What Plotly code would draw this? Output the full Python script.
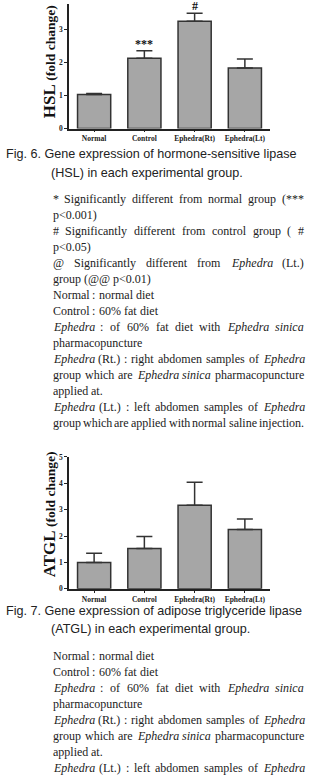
import plotly.graph_objects as go
import re

# ---------------- data ----------------
groups = ["Normal", "Control", "Ephedra(Rt)", "Ephedra(Lt)"]
hsl_mean = [1.03, 2.13, 3.26, 1.84]
hsl_sem = [0.03, 0.23, 0.24, 0.27]
atgl_mean = [1.00, 1.53, 3.17, 2.25]
atgl_sem = [0.35, 0.46, 0.87, 0.40]
hsl_marks = ["", "***", "#", ""]
y_ticks_hsl = [0, 1, 2, 3]
y_ticks_atgl = [0, 1, 2, 3, 4, 5]

caption6 = ["Fig. 6. Gene expression of hormone-sensitive lipase",
            "(HSL) in each experimental group."]
caption7 = ["Fig. 7. Gene expression of adipose triglyceride lipase",
            "(ATGL) in each experimental group."]

notes6 = [
    ("* Significantly different from normal group (***", True),
    ("p&lt;0.001)", False),
    ("# Significantly different from control group ( #", True),
    ("p&lt;0.05)", False),
    ("@ Significantly different from <i>Ephedra</i> (Lt.)", True),
    ("group (@@ p&lt;0.01)", False),
    ("Normal : normal diet", False),
    ("Control : 60% fat diet", False),
    ("<i>Ephedra</i> : of 60% fat diet with <i>Ephedra</i> <i>sinica</i>", True),
    ("pharmacopuncture", False),
    ("<i>Ephedra</i> (Rt.) : right abdomen samples of <i>Ephedra</i>", True),
    ("group which are <i>Ephedra</i> <i>sinica</i> pharmacopuncture", True),
    ("applied at.", False),
    ("<i>Ephedra</i> (Lt.) : left abdomen samples of <i>Ephedra</i>", True),
    ("group which are applied with normal saline injection.", True),
]
notes7 = [
    ("Normal : normal diet", False),
    ("Control : 60% fat diet", False),
    ("<i>Ephedra</i> : of 60% fat diet with <i>Ephedra</i> <i>sinica</i>", True),
    ("pharmacopuncture", False),
    ("<i>Ephedra</i> (Rt.) : right abdomen samples of <i>Ephedra</i>", True),
    ("group which are <i>Ephedra</i> <i>sinica</i> pharmacopuncture", True),
    ("applied at.", False),
    ("<i>Ephedra</i> (Lt.) : left abdomen samples of <i>Ephedra</i>", True),
]

# ---------------- layout helpers ----------------
W, H = 309, 778
def px(x):
    return x / W
def py(y):
    return 1 - y / H

# Times / Liberation Serif advance widths (1/1000 em)
REG = dict(zip("abcdefghijklmnopqrstuvwxyz",
               [444,500,444,500,444,333,500,500,278,278,500,278,778,500,500,500,500,333,389,278,500,500,722,500,500,444]))
REG.update(dict(zip("ABCDEFGHIJKLMNOPQRSTUVWXYZ",
               [722,667,667,722,611,556,722,722,333,389,722,611,889,722,722,556,722,667,556,611,722,722,944,722,722,611])))
REG.update({c: 500 for c in "0123456789"})
REG.update({" ": 250, "(": 333, ")": 333, ".": 250, ":": 278, "%": 833, "*": 500,
            "#": 500, "@": 921, "<": 564, ",": 250, "-": 333})
ITA = dict(REG)
ITA.update(dict(zip("abcdefghijklmnopqrstuvwxyz",
               [500,500,444,500,444,278,500,500,278,278,444,278,722,500,500,500,500,389,389,278,500,444,667,444,444,389])))
ITA.update({"E": 611, "A": 611})

def word_width(tok, size):
    italic = "<i>" in tok
    plain = re.sub(r"<[^>]+>", "", tok).replace("&lt;", "<")
    tab = ITA if italic else REG
    return sum(tab.get(c, 500) for c in plain) * size / 1000.0

NOTE_FONT = dict(family="Liberation Serif", size=12, color="#222")
LEFT, RIGHT = 51.5, 303.0
LINE_H = 16.2

annotations = []

def add_notes(lines, y0):
    fs = NOTE_FONT["size"]
    for k, (line, just) in enumerate(lines):
        toks = line.split(" ")
        widths = [word_width(t, fs) for t in toks]
        if just and len(toks) > 1:
            gap = (RIGHT - LEFT - sum(widths)) / (len(toks) - 1)
            gap = max(gap, 1.2)
        else:
            gap = 0.26 * fs
        x = LEFT
        yc = y0 + k * LINE_H
        for t, w in zip(toks, widths):
            annotations.append(dict(text=t, x=px(x), y=py(yc), xref="paper", yref="paper",
                                    xanchor="left", yanchor="middle", showarrow=False,
                                    borderpad=0, font=NOTE_FONT))
            x += w + gap

CAP_FONT = dict(family="Liberation Sans", size=12.6, color="#222")

def add_caption(lines, ys):
    for (t, y, x) in zip(lines, ys, [5, 50]):
        annotations.append(dict(text=t, x=px(x), y=py(y), xref="paper", yref="paper",
                                xanchor="left", yanchor="middle", showarrow=False,
                                borderpad=0, font=CAP_FONT))

add_caption(caption6, [151.5, 170.5])
add_caption(caption7, [614.0, 632.0])
add_notes(notes6, 197.0)
add_notes(notes7, 660.0)

# y-axis titles (mixed sizes)
def ytitle(name, ybottom):
    return dict(text=f"<b><span style='font-size:17px'>{name}</span> (fold change)</b>",
                x=px(49), y=py(ybottom), xref="paper", yref="paper", textangle=-90,
                xanchor="center", yanchor="bottom", showarrow=False,
                font=dict(family="Liberation Serif", size=13.5, color="#111"))
annotations.append(ytitle("HSL", 118))
annotations.append(ytitle("ATGL", 582))

# significance marks
for g, m, e, s in zip(groups, hsl_mean, hsl_sem, hsl_marks):
    if s:
        annotations.append(dict(text=s, x=g, y=m + e, xref="x", yref="y",
                                xanchor="center", yanchor="bottom", showarrow=False,
                                yshift=-2, font=dict(family="Liberation Serif", size=12,
                                                      color="#111", weight="bold")))

bar_style = dict(marker=dict(color="#a6a6a6", line=dict(color="#333333", width=1.5)),
                 width=0.66, showlegend=False)

fig = go.Figure()
fig.add_trace(go.Bar(x=groups, y=hsl_mean, xaxis="x", yaxis="y",
                     error_y=dict(type="data", symmetric=False, array=hsl_sem,
                                  arrayminus=[0] * len(hsl_sem), color="#333",
                                  thickness=1.5, width=8),
                     **bar_style))
fig.add_trace(go.Bar(x=groups, y=atgl_mean, xaxis="x2", yaxis="y2",
                     error_y=dict(type="data", symmetric=False, array=atgl_sem,
                                  arrayminus=[0] * len(atgl_sem), color="#333",
                                  thickness=1.5, width=8),
                     **bar_style))

tickfont = dict(family="Liberation Serif", size=7.5, color="#222", weight="bold")
xcommon = dict(type="category", range=[-0.5, 3.5], showline=True, linecolor="#222",
               linewidth=1.5, ticks="outside", ticklen=2, tickcolor="#222",
               showgrid=False, zeroline=False, tickfont=tickfont,
               domain=[px(69), px(270)])
ycommon = dict(showline=True, linecolor="#222", linewidth=1.5, ticks="outside",
               ticklen=3, tickcolor="#222", showgrid=False, zeroline=False,
               tickfont=tickfont, tickmode="array")

fig.update_layout(
    width=W, height=H, margin=dict(l=0, r=0, t=0, b=0),
    paper_bgcolor="white", plot_bgcolor="white",
    xaxis=dict(anchor="y", **xcommon),
    yaxis=dict(anchor="x", range=[0, 3.78], domain=[py(126), 1.0],
               tickvals=y_ticks_hsl, **ycommon),
    xaxis2=dict(anchor="y2", **xcommon),
    yaxis2=dict(anchor="x2", range=[0, 5], domain=[py(591.7), py(458.3)],
                tickvals=y_ticks_atgl, **ycommon),
    annotations=annotations,
    bargap=0.34,
)

fig.write_html("out.html")
